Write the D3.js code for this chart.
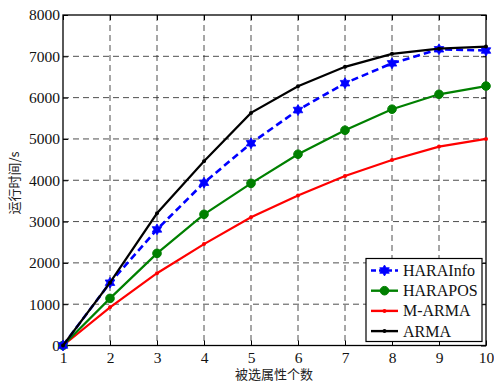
<!DOCTYPE html>
<html><head><meta charset="utf-8">
<script src="https://cdn.jsdelivr.net/npm/d3@7"></script>
<style>body{margin:0;background:#fff}svg{display:block}</style>
</head><body><svg id="c" width="494" height="383"></svg>
<script>
const xValues = [1,2,3,4,5,6,7,8,9,10];
const seriesNames = ["HARAInfo","HARAPOS","M-ARMA","ARMA"];
const haraInfo = [0,1520,2810,3940,4895,5700,6350,6830,7170,7140];
const haraPos  = [0,1140,2230,3175,3925,4630,5210,5720,6080,6280];
const mArma    = [0,925,1750,2455,3105,3630,4105,4490,4815,5000];
const arma     = [0,1520,3200,4460,5630,6275,6745,7060,7185,7235];
const yTicks = [0,1000,2000,3000,4000,5000,6000,7000,8000];
const xTicks = [1,2,3,4,5,6,7,8,9,10];
const xLabel = "被选属性个数";
const yLabel = "运行时间/s";

const svg = d3.select("#c");
const L=63, R=486, T=15, B=345.5;
const x = d3.scaleLinear().domain([1,10]).range([L,R]);
const y = d3.scaleLinear().domain([0,8000]).range([B,T]);
const font = "'Liberation Serif','Times New Roman',serif";
const cjk = "'Noto Sans CJK SC',serif";

// grid
const g = svg.append("g");
g.selectAll(".gx").data(xTicks.slice(1,-1)).join("line")
 .attr("x1",d=>x(d)).attr("x2",d=>x(d)).attr("y1",T).attr("y2",B)
 .attr("stroke","#222").attr("stroke-width",0.8).attr("stroke-dasharray","6,4");
g.selectAll(".gy").data(yTicks.slice(1,-1)).join("line")
 .attr("y1",d=>y(d)).attr("y2",d=>y(d)).attr("x1",L).attr("x2",R)
 .attr("stroke","#222").attr("stroke-width",0.8).attr("stroke-dasharray","6,4");

// axes
svg.append("g").attr("transform",`translate(0,${B})`)
 .call(d3.axisBottom(x).tickValues(xTicks).tickSizeInner(-5).tickSizeOuter(0).tickPadding(6));
svg.append("g").attr("transform",`translate(${L},0)`)
 .call(d3.axisLeft(y).tickValues(yTicks).tickSizeInner(-5).tickSizeOuter(0).tickPadding(3).tickFormat(d3.format("d")));
svg.append("g").attr("transform",`translate(0,${T})`)
 .call(d3.axisTop(x).tickValues(xTicks).tickSizeInner(-5).tickSizeOuter(0).tickFormat(""));
svg.append("g").attr("transform",`translate(${R},0)`)
 .call(d3.axisRight(y).tickValues(yTicks).tickSizeInner(-5).tickSizeOuter(0).tickFormat(""));
svg.selectAll(".domain").remove();
svg.selectAll(".tick line").attr("stroke","#000");
svg.selectAll(".tick text").attr("font-family",font).attr("font-size",15.5).attr("fill","#111");
svg.append("rect").attr("x",L).attr("y",T).attr("width",R-L).attr("height",B-T)
 .attr("fill","none").attr("stroke","#000").attr("stroke-width",1.3);

// series
function hexagram(r){
  const pts=[];
  for(let i=0;i<12;i++){
    const a=-Math.PI/2+i*Math.PI/6;
    const rr = i%2===0? r : r*0.58;
    pts.push([rr*Math.cos(a), rr*Math.sin(a)]);
  }
  return "M"+pts.map(p=>p.join(",")).join("L")+"Z";
}
const series = [
 {name:seriesNames[0], vals:haraInfo, color:"#0000ff", dash:"7,4", marker:"star"},
 {name:seriesNames[1], vals:haraPos, color:"#008000", dash:null, marker:"circle"},
 {name:seriesNames[2], vals:mArma, color:"#ff0000", dash:null, marker:"dot"},
 {name:seriesNames[3], vals:arma, color:"#000000", dash:null, marker:"dot"}
];
const line = d3.line().x((d,i)=>x(xValues[i])).y(d=>y(d));
function drawMarker(sel, s, cx, cy){
  if(s.marker==="star") sel.append("path").attr("d",hexagram(5.5)).attr("transform",`translate(${cx},${cy})`).attr("fill",s.color).attr("stroke",s.color).attr("stroke-width",0.8);
  else if(s.marker==="circle") sel.append("circle").attr("cx",cx).attr("cy",cy).attr("r",4.3).attr("fill",s.color).attr("stroke",s.color);
  else sel.append("circle").attr("cx",cx).attr("cy",cy).attr("r",2).attr("fill",s.color);
}
const order=[2,1,0,3];
order.forEach(k=>{
  const s=series[k];
  const gs=svg.append("g");
  gs.append("path").attr("d",line(s.vals)).attr("fill","none").attr("stroke",s.color)
    .attr("stroke-width",s.marker==="star"?2.6:2.2).attr("stroke-dasharray",s.dash);
  s.vals.forEach((v,i)=>drawMarker(gs,s,x(xValues[i]),y(v)));
});

// legend
const lg=svg.append("g");
lg.append("rect").attr("x",366).attr("y",258.5).attr("width",116).attr("height",83)
  .attr("fill","#fff").attr("stroke","#000").attr("stroke-width",1.2);
series.forEach((s,i)=>{
  const ly=270.5+i*20.2;
  lg.append("line").attr("x1",371).attr("x2",398).attr("y1",ly).attr("y2",ly)
    .attr("stroke",s.color).attr("stroke-width",2.4).attr("stroke-dasharray",s.dash?"5,3":null);
  drawMarker(lg,s,384.5,ly);
  lg.append("text").attr("x",403).attr("y",ly+5.5).text(s.name)
    .attr("font-family",font).attr("font-size",16).attr("fill","#111");
});

// axis labels
svg.append("text").attr("x",274).attr("y",379).attr("text-anchor","middle")
  .attr("font-family",cjk).attr("font-size",13).attr("fill","#222").text(xLabel);
svg.append("text").attr("transform","translate(18.5,183) rotate(-90)").attr("text-anchor","middle")
  .attr("font-family",cjk).attr("font-size",13).attr("fill","#222").text(yLabel);
</script></body></html>
